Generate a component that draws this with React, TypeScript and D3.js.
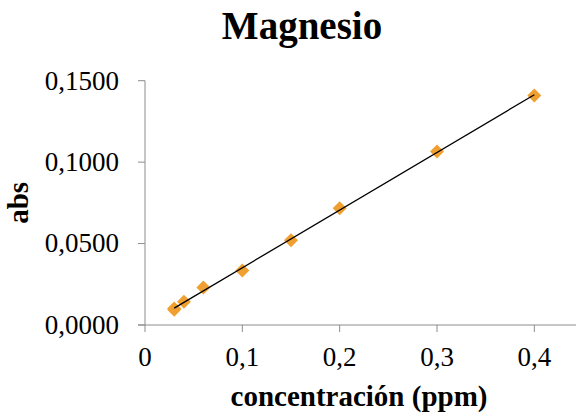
import React, { useEffect } from 'react';
import * as d3 from 'd3';

// concentración (ppm) vs abs
const conc = [0.03, 0.03, 0.04, 0.06, 0.1, 0.15, 0.2, 0.3, 0.4];
const abs = [0.0102, 0.0094, 0.0143, 0.0231, 0.0334, 0.052, 0.0717, 0.1065, 0.1409];
const xTicks = [0, 0.1, 0.2, 0.3, 0.4];
const yTicks = [0, 0.05, 0.1, 0.15];

const W = 576;
const H = 415;
const serif = '"Liberation Serif", serif';
const axisColor = '#8c8c8c';
const markColor = '#f0a030';

const App: React.FC = () => {
  useEffect(() => {
    document.body.style.margin = '0';
  }, []);

  const x = d3.scaleLinear().domain([0, 0.45]).range([145, 583]);
  const y = d3.scaleLinear().domain([0, 0.15]).range([325, 80.7]);

  // least squares trend line
  const mx = d3.mean(conc)!;
  const my = d3.mean(abs)!;
  const slope =
    d3.sum(conc, (c, i) => (c - mx) * (abs[i] - my)) /
    d3.sum(conc, (c) => (c - mx) ** 2);
  const icpt = my - slope * mx;
  const [x0, x1] = d3.extent(conc) as [number, number];
  const trend = d3.line<number>()
    .x((d) => x(d))
    .y((d) => y(icpt + slope * d));

  const fmtX = (v: number) => (v === 0 ? '0' : v.toFixed(1).replace('.', ','));
  const fmtY = (v: number) => v.toFixed(4).replace('.', ',');

  const r = 7;

  return (
    <svg width={W} height={H} style={{ display: 'block', background: '#fff' }}>
      <text x={302} y={39} textAnchor="middle" fontFamily={serif} fontWeight="bold" fontSize={39}>
        Magnesio
      </text>

      {/* y axis */}
      <line x1={x(0)} x2={x(0)} y1={y(0.15)} y2={y(0)} stroke={axisColor} strokeWidth={1} />
      {yTicks.map((t) => (
        <g key={'y' + t}>
          <line x1={x(0) - 7} x2={x(0)} y1={y(t)} y2={y(t)} stroke={axisColor} />
          <text x={119} y={y(t)} dy="0.33em" textAnchor="end" fontFamily={serif} fontSize={27}>
            {fmtY(t)}
          </text>
        </g>
      ))}

      {/* x axis */}
      <line x1={x(0) - 7} x2={x(0.45)} y1={y(0)} y2={y(0)} stroke={axisColor} strokeWidth={1} />
      {xTicks.map((t) => (
        <g key={'x' + t}>
          <line x1={x(t)} x2={x(t)} y1={y(0)} y2={y(0) + 7} stroke={axisColor} />
          <text x={x(t)} y={366} textAnchor="middle" fontFamily={serif} fontSize={27}>
            {fmtX(t)}
          </text>
        </g>
      ))}

      <text x={359} y={406} textAnchor="middle" fontFamily={serif} fontWeight="bold" fontSize={29}>
        concentración (ppm)
      </text>
      <text
        transform={`translate(28, ${y(0.075)}) rotate(-90)`}
        textAnchor="middle"
        fontFamily={serif}
        fontWeight="bold"
        fontSize={29}
      >
        abs
      </text>

      {conc.map((c, i) => {
        const cx = x(c);
        const cy = y(abs[i]);
        return (
          <path
            key={'p' + i}
            d={`M${cx},${cy - r}L${cx + r},${cy}L${cx},${cy + r}L${cx - r},${cy}Z`}
            fill={markColor}
          />
        );
      })}

      <path d={trend([x0, x1]) || ''} fill="none" stroke="#000" strokeWidth={1.3} />
    </svg>
  );
};

export default App;
